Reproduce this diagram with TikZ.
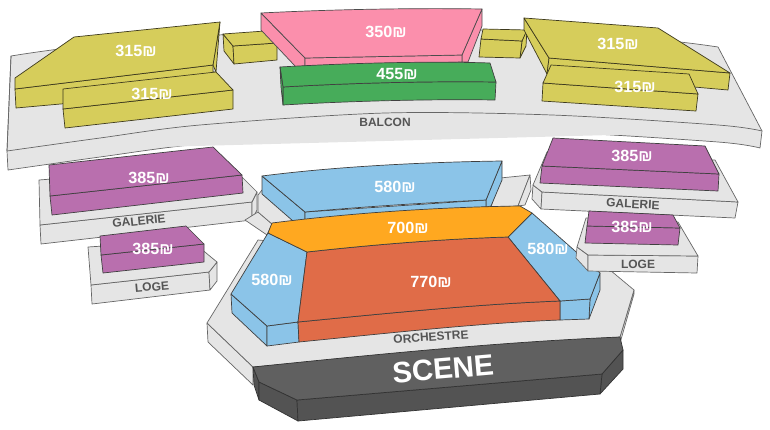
\documentclass[tikz,border=0pt]{standalone}
\usepackage{fontspec}
\setmainfont{Liberation Sans}
\definecolor{plat}{HTML}{E5E5E5}
\definecolor{platline}{HTML}{666666}
\definecolor{ytop}{HTML}{D6CD5B}
\definecolor{ylin}{HTML}{3E3A1E}
\definecolor{pur}{HTML}{B96FAE}
\definecolor{grn}{HTML}{47AC5A}
\definecolor{pnk}{HTML}{FB8FAC}
\definecolor{blu}{HTML}{8BC4E8}
\definecolor{org}{HTML}{FFA820}
\definecolor{red}{HTML}{E06C48}
\definecolor{stg}{HTML}{606060}
\definecolor{stf}{HTML}{535353}
\definecolor{lbl}{HTML}{555555}
\tikzset{
  pf/.style={fill=plat,draw=platline,line width=.7pt,line join=round},
  ye/.style={fill=ytop,draw=ylin,line width=.7pt,line join=round},
  pu/.style={fill=pur,draw=black!75,line width=.7pt,line join=round},
  gr/.style={fill=grn,draw=black!75,line width=.7pt,line join=round},
  pk/.style={fill=pnk,draw=black!70,line width=.7pt,line join=round},
  bl/.style={fill=blu,draw=black!75,line width=.7pt,line join=round},
  og/.style={fill=org,draw=black!75,line width=.7pt,line join=round},
  rd/.style={fill=red,draw=black!75,line width=.7pt,line join=round},
  sg/.style={fill=stg,draw=black!80,line width=.7pt,line join=round},
  sf/.style={fill=stf,draw=black!80,line width=.7pt,line join=round},
  price/.style={text=white,font=\bfseries\fontsize{16.2}{18}\selectfont,inner sep=0pt},
  zone/.style={text=lbl,font=\bfseries\fontsize{12}{14}\selectfont,inner sep=0pt},
}
\begin{document}
\begin{tikzpicture}[x=1pt,y=-1pt]
\useasboundingbox (0,0) rectangle (770,429);
% balcony
\draw[pf] (11,56) .. controls (200,25) and (540,20) .. (718,47) -- (762,131)
  -- (760,148) -- plot[smooth,tension=.5] coordinates {(760,148)(718,142)(552,132)(385,130)(200,144)(100,157)(8,170)} -- (7,151) -- cycle;
\draw[pf] plot[smooth,tension=.5] coordinates {(7,151)(100,138)(200,125)(385,113)(552,115)(718,125)(762,131)};
\draw[pf,fill=none] (11,56) -- (7,151);
% yellow left big
\draw[ye] (15,89) -- (213,65) -- (213,72) -- (216,72) -- (216,90) -- (16,108) -- cycle;
\draw[ye] (220,22) -- (216,72) -- (213,65) -- cycle;
\draw[ye] (15,78) -- (74,37) -- (220,22) -- (213,65) -- (15,89) -- cycle;
% yellow left lower
\draw[ye] (63,109) -- (233,90) -- (233,109) -- (65,128) -- cycle;
\draw[ye] (63,89) -- (216,72) -- (233,90) -- (63,109) -- cycle;
% small yellow left
\draw[ye] (223,34) -- (233,46) -- (234,64) -- (224,51) -- cycle;
\draw[ye] (233,46) -- (277,43) -- (277,60) -- (234,64) -- cycle;
\draw[ye] (223,34) -- (265,31) -- (277,43) -- (233,46) -- cycle;
% pink
\draw[pk] (261,13) -- (305,58) -- (305,66) -- (296,67) -- (261,30) -- cycle;
\draw[pk] (482,9) -- (462,55) -- (462,62) -- (468,62) -- (482,26) -- cycle;
\draw[pk] (305,58) -- (462,55) -- (462,62) -- (305,66) -- cycle;
\draw[pk] (261,13) .. controls (340,9) and (420,8) .. (482,9) -- (462,55) -- (305,58) -- cycle;
% green
\draw[gr] (283,87) .. controls (350,83) and (430,81) .. (496,82) -- (495,100) .. controls (430,99) and (350,101) .. (283,105) -- cycle;
\draw[gr] (280,67) .. controls (350,63) and (430,61) .. (490,63) -- (496,82) .. controls (430,81) and (350,83) .. (283,87) -- cycle;
\draw[gr] (280,67) -- (283,87) -- (283,105) -- (281,87) -- cycle;
% small yellow right
\draw[ye] (527,29) -- (522,41) -- (520,58) -- (526,46) -- cycle;
\draw[ye] (481,39) -- (522,41) -- (520,58) -- (479,57) -- cycle;
\draw[ye] (483,29) -- (527,30) -- (522,41) -- (481,39) -- cycle;
% yellow right big
\draw[ye] (524,18) -- (524,30) -- (547,74) -- (549,58) -- cycle;
\draw[ye] (549,58) -- (730,73) -- (728,90) -- (547,74) -- cycle;
\draw[ye] (524,18) -- (658,28) -- (730,73) -- (549,58) -- cycle;
% yellow right lower
\draw[ye] (543,83) -- (698,94) -- (696,111) -- (542,101) -- cycle;
\draw[ye] (551,65) -- (689,74) -- (698,94) -- (543,83) -- cycle;
% galerie left
\draw[pf] (40,225) -- (252,202) -- (252,220) -- (41,244) -- cycle;
\draw[pf] (252,202) -- (257,192) -- (257,210) -- (252,220) -- cycle;
\draw[pf] (39,180) -- (225,165) -- (243,178) -- (257,192) -- (252,202) -- (40,225) -- cycle;
% purple left
\draw[pu] (50,196) -- (242,175) -- (243,193) -- (52,215) -- cycle;
\draw[pu] (49,165) -- (213,147) -- (242,175) -- (50,196) -- cycle;
% center gray pieces
\draw[pf] (245,220) -- (258,212) -- (272,224) -- (267,235) -- cycle;
\draw[pf] (258,195) -- (262,190) -- (300,215) -- (293,222) -- (272,224) -- (258,212) -- cycle;
\draw[pf] (500,178) -- (530,175) -- (518,206) -- (491,207) -- cycle;
\draw[pf] (530,175) -- (531,190) -- (525,205) -- (518,206) -- cycle;
% orchestra platform
\draw[pf] (207,323) -- (208,342) -- (253,385) -- (253,367) -- cycle;
\draw[pf] (634,290) -- (620,337) -- (620,343) -- (634,294) -- cycle;
\draw[pf] (258,240) -- (610,270) -- (634,290) -- (620,337) -- (253,367) -- (207,323) -- cycle;
% blue center
\draw[bl] (262,176) -- (305,212) -- (305,220) -- (293,221) -- (262,194) -- cycle;
\draw[bl] (502,161) -- (486,200) -- (486,207) -- (491,206) -- (502,180) -- cycle;
\draw[bl] (305,212) -- (486,200) -- (486,207) -- (305,220) -- cycle;
\draw[bl] (262,176) .. controls (340,166) and (430,162) .. (502,161) -- (486,200) .. controls (420,203) and (360,207) .. (305,212) -- cycle;
% left blue
\draw[bl] (231,294) -- (267,326) -- (267,346) -- (232,313) -- cycle;
\draw[bl] (267,326) -- (298,322) -- (299,342) -- (267,346) -- cycle;
\draw[bl] (268,233) -- (307,252) -- (298,322) -- (267,326) -- (231,294) -- cycle;
% right blue
\draw[bl] (600,273) -- (590,299) -- (589,319) -- (600,290) -- cycle;
\draw[bl] (560,301) -- (590,299) -- (589,319) -- (560,320) -- cycle;
\draw[bl] (532,213) -- (508,237) -- (560,301) -- (590,299) -- (600,273) -- cycle;
% red
\draw[rd] (298,322) .. controls (390,313) and (480,304) .. (560,301) -- (560,320) .. controls (480,323) and (390,333) .. (299,342) -- cycle;
\draw[rd] (307,252) .. controls (370,245) and (440,239) .. (508,237) -- (560,301) .. controls (480,304) and (390,313) .. (298,322) -- cycle;
% orange
\draw[og] (272,223) .. controls (350,213) and (440,207) .. (520,206) -- (532,213) -- (508,237) .. controls (440,239) and (370,245) .. (307,252) -- (268,233) -- cycle;
% galerie right
\draw[pf] (533,185) -- (542,192) -- (541,209) -- (532,199) -- cycle;
\draw[pf] (542,192) -- (738,202) -- (735,218) -- (541,209) -- cycle;
\draw[pf] (547,152) -- (533,185) -- (542,192) -- (738,202) -- (715,160) -- cycle;
% purple right
\draw[pu] (542,166) -- (719,174) -- (718,191) -- (540,183) -- cycle;
\draw[pu] (553,138) -- (705,146) -- (719,174) -- (542,166) -- cycle;
% loge left
\draw[pf] (91,285) -- (209,272) -- (210,290) -- (92,304) -- cycle;
\draw[pf] (209,272) -- (217,262) -- (217,281) -- (210,290) -- cycle;
\draw[pf] (88,247) -- (195,240) -- (200,248) -- (217,262) -- (209,272) -- (91,285) -- cycle;
% purple loge left
\draw[pu] (101,255) -- (204,244) -- (204,262) -- (103,273) -- cycle;
\draw[pu] (100,236) -- (186,226) -- (204,244) -- (101,255) -- cycle;
% loge right
\draw[pf] (577,247) -- (588,255) -- (588,271) -- (576,258) -- cycle;
\draw[pf] (588,255) -- (698,256) -- (697,273) -- (588,271) -- cycle;
\draw[pf] (586,218) -- (577,247) -- (588,255) -- (698,256) -- (678,222) -- cycle;
% purple loge right
\draw[pu] (587,226) -- (680,228) -- (678,245) -- (585,243) -- cycle;
\draw[pu] (589,211) -- (673,215) -- (680,228) -- (587,226) -- cycle;
% stage
\draw[sf] (253,367) -- (259,382) -- (259,400) -- (254,385) -- cycle;
\draw[sf] (259,382) -- (297,400) -- (298,421) -- (259,400) -- cycle;
\draw[sf] (623,350) -- (602,374) -- (600,394) -- (623,369) -- cycle;
\draw[sf] (297,400) -- (602,374) -- (600,394) -- (298,421) -- cycle;
\draw[sg] (253,367) .. controls (380,354) and (500,342) .. (620,337) -- (623,350) -- (602,374) -- (297,400) -- (259,382) -- cycle;
% labels
\node[price] (p1) at (136,51) {315₪};
\node[price] (p2) at (152,94) {315₪};
\node[price] (p3) at (386,32) {350₪};
\node[price] (p4) at (397,74) {455₪};
\node[price] (p5) at (618,44) {315₪};
\node[price] (p6) at (635,87) {315₪};
\node[price] (p7) at (149,178) {385₪};
\node[price] (p8) at (632,156) {385₪};
\node[price] (p9) at (395,187) {580₪};
\node[price] (p10) at (408,228) {700₪};
\node[price] (p11) at (272,280) {580₪};
\node[price] (p12) at (548,249) {580₪};
\node[price] (p13) at (431,282) {770₪};
\node[price] (p14) at (153,249) {385₪};
\node[price] (p15) at (632,227) {385₪};
\node[zone] (z1) at (385,122) {BALCON};
\node[zone,rotate=6] (z2) at (139,221) {GALERIE};
\node[zone,rotate=-3] (z3) at (633,204) {GALERIE};
\node[zone,rotate=5] (z4) at (152,287) {LOGE};
\node[zone] (z5) at (638,264) {LOGE};
\node[zone,rotate=4] (z6) at (431,337) {ORCHESTRE};
\node[text=white,font=\bfseries\fontsize{29.5}{32}\selectfont,inner sep=0pt,rotate=5] (sc) at (443,369) {SCENE};
\end{tikzpicture}
\end{document}
